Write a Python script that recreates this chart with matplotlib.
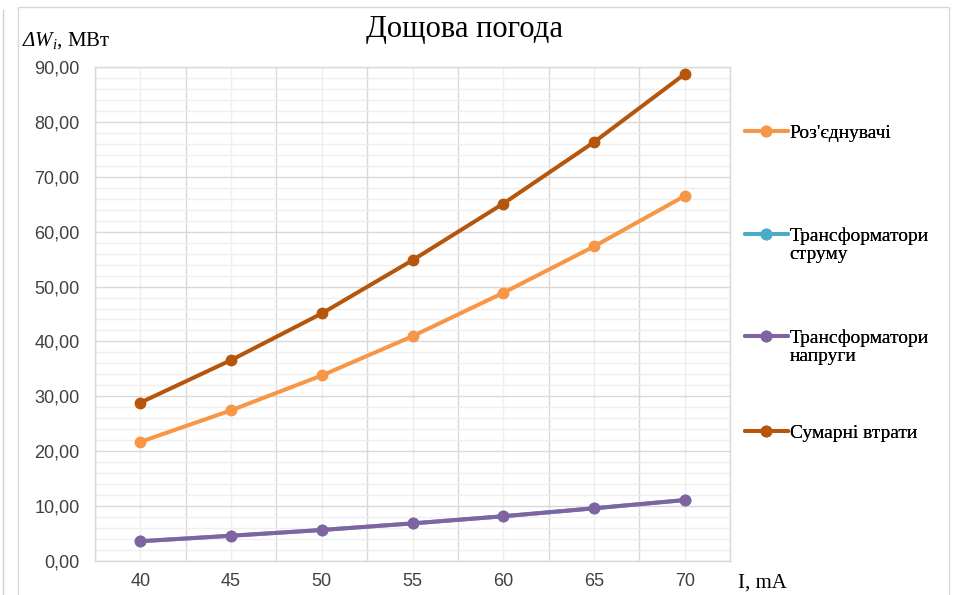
import matplotlib
matplotlib.use('Agg')
import matplotlib.pyplot as plt
from matplotlib.ticker import MultipleLocator, FixedLocator, FuncFormatter
from matplotlib.lines import Line2D
from matplotlib.legend_handler import HandlerLine2D

# ---- data ----
categories = ['40', '45', '50', '55', '60', '65', '70']
roz = [21.7, 27.45, 33.8, 40.95, 48.85, 57.3, 66.5]
tr_strumu = [3.6, 4.6, 5.65, 6.85, 8.15, 9.6, 11.1]
tr_napr = [3.6, 4.6, 5.65, 6.85, 8.15, 9.6, 11.1]
sumarni = [28.85, 36.6, 45.1, 54.8, 65.1, 76.3, 88.7]
series_names = ["Роз'єднувачі", "Трансформатори\nструму", "Трансформатори\nнапруги", "Сумарні втрати"]
title = "Дощова погода"
x_label = "I, mA"
y_label = r"$ΔW_i$, МВт"

colors = ['#F79646', '#4BACC6', '#8064A2', '#B5560C']

# the only mathtext in the chart is the italic ΔW_i label
plt.rcParams['mathtext.fontset'] = 'custom'
plt.rcParams['mathtext.rm'] = 'Liberation Serif:italic'
plt.rcParams['mathtext.it'] = 'Liberation Serif:italic'


class ShiftedLineHandler(HandlerLine2D):
    """Line handler whose line sits on the first text line of a 2-line label."""
    def __init__(self, shift=0.0, **kw):
        super().__init__(**kw)
        self.shift = shift

    def create_artists(self, legend, orig_handle, xdescent, ydescent,
                       width, height, fontsize, trans):
        arts = super().create_artists(legend, orig_handle, xdescent, ydescent,
                                      width, height, fontsize, trans)
        for a in arts:
            a.set_ydata([y + self.shift for y in a.get_ydata()])
        return arts


W, H = 957, 595
fig = plt.figure(figsize=(W / 100, H / 100), dpi=100)
fig.patch.set_facecolor('white')

# outer decorations (chart border, page edge)
fig.add_artist(plt.Rectangle((18 / W, -0.02), (949 - 18) / W, 1.02 - 7 / H,
                             transform=fig.transFigure, fill=False,
                             edgecolor='#D9D9D9', linewidth=1.0))
fig.add_artist(Line2D([3 / W, 3 / W], [0, 1 - 10 / H], transform=fig.transFigure,
                      color='#D0D0D0', linewidth=1.0))

ax = fig.add_axes([95 / W, 1 - 561 / H, (730 - 95) / W, (561 - 67) / H])

x = list(range(len(categories)))
all_series = [roz, tr_strumu, tr_napr, sumarni]
handles = []
for vals, name, c in zip(all_series, series_names, colors):
    h, = ax.plot(x, vals, color=c, linewidth=2.9, marker='o', markersize=7.5,
                 solid_capstyle='round', label=name, zorder=3)
    handles.append(h)

ax.set_xlim(-0.5, len(categories) - 0.5)
ax.set_ylim(0, 90)

# grid
ax.yaxis.set_major_locator(MultipleLocator(10))
ax.yaxis.set_minor_locator(MultipleLocator(2))
ax.xaxis.set_major_locator(FixedLocator(x))
ax.xaxis.set_minor_locator(FixedLocator([i + 0.5 for i in range(-1, len(categories))]))
ax.set_xticklabels(categories)
ax.yaxis.set_major_formatter(FuncFormatter(lambda v, p: f"{v:.2f}".replace('.', ',')))

ax.grid(which='major', axis='y', color='#D9D9D9', linewidth=1.0, zorder=0)
ax.grid(which='minor', axis='y', color='#EFEFEF', linewidth=1.0, zorder=0)
ax.grid(which='minor', axis='x', color='#D9D9D9', linewidth=1.0, zorder=0)
ax.grid(which='major', axis='x', color='#EFEFEF', linewidth=1.0, zorder=0)
ax.set_axisbelow(True)

for s in ax.spines.values():
    s.set_color('#D9D9D9')
    s.set_linewidth(1.0)

tick_font = ['Liberation Sans Narrow', 'Liberation Sans', 'DejaVu Sans']
ax.tick_params(which='both', length=0)
ax.tick_params(axis='y', pad=11, labelsize=13, labelcolor='#404040')
ax.tick_params(axis='x', pad=9, labelsize=13, labelcolor='#404040')
for lab in ax.get_xticklabels() + ax.get_yticklabels():
    lab.set_fontfamily(tick_font)

# title and axis labels
fig.text(465 / W, 1 - 30 / H, title, ha='center', va='center',
         fontsize=22, family='Liberation Serif', color='#000000')
fig.text(22 / W, 1 - 41 / H, y_label, ha='left', va='center',
         fontsize=15, family='Liberation Serif', color='#000000')
fig.text(738 / W, 1 - 583 / H, x_label, ha='left', va='center',
         fontsize=15, family='Liberation Serif', color='#000000')

# legend: one entry per legend, positioned like the reference
text_centers = [133, 245, 347, 433]
for h, name, yc in zip(handles, series_names, text_centers):
    shift = 7.5 if '\n' in name else 0.0
    leg = fig.legend([h], [name], loc='center left',
                     bbox_to_anchor=(745 / W, 1 - yc / H),
                     frameon=False, borderpad=0, borderaxespad=0,
                     handlelength=2.2, handletextpad=0.1,
                     handler_map={h: ShiftedLineHandler(shift=shift)},
                     prop={'family': 'Liberation Serif', 'size': 14})
    for t in leg.get_texts():
        t.set_linespacing(1.05)
    fig.add_artist(leg)

fig.savefig('out.png', dpi=100, facecolor='white')
